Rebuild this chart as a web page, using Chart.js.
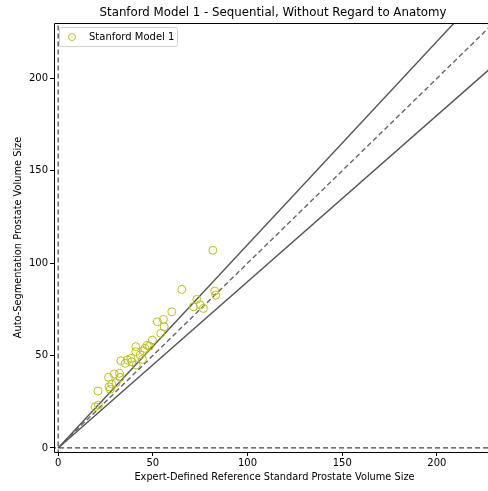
<!DOCTYPE html>
<html>
<head>
<meta charset="utf-8">
<script src="https://cdn.jsdelivr.net/npm/chart.js@4.4.1/dist/chart.umd.min.js"></script>
<style>
html,body{margin:0;padding:0;background:#fff;}
#wrap{width:488px;height:491px;position:relative;}
</style>
</head>
<body>
<div id="wrap"><canvas id="c" width="488" height="491"></canvas></div>
<script>
// ---- data ----
const titleText = "Stanford Model 1 - Sequential, Without Regard to Anatomy";
const xLabel = "Expert-Defined Reference Standard Prostate Volume Size";
const yLabel = "Auto-Segmentation Prostate Volume Size";
const seriesName = "Stanford Model 1";
const refX = [81.7,65.3,82.7,83.2,73.2,71.4,75.0,76.7,60.0,52.4,55.6,56.0,54.2,49.8,48.2,41.0,45.9,45.1,41.0,43.3,33.1,36.6,38.4,35.4,38.9,41.2,26.6,29.6,32.4,32.7,28.3,26.9,27.5,30.6,21.0,19.5,21.3,44.5,47.0];
const autoY = [107.0,85.8,84.9,82.7,80.4,76.4,77.5,75.5,73.7,68.3,69.6,65.6,62.0,58.4,55.1,54.8,53.9,52.6,52.1,50.3,47.2,47.6,48.5,45.8,46.6,44.9,38.2,40.0,40.4,38.2,34.6,33.1,31.7,35.3,30.8,22.3,23.2,48.0,55.5];
const xTicks = [0,50,100,150,200];
const yTicks = [0,50,100,150,200];
const xRange = [-2.2, 227];
const yRange = [-2.2, 230];
const slopes = [1.1, 1.0, 0.9];   // upper bound, identity, lower bound
const lineEndX = [0, 300];

const points = refX.map((x,i)=>({x:x, y:autoY[i]}));
const mkLine = s => lineEndX.map(x=>({x:x, y:s*x}));

const FONT = "'DejaVu Sans', sans-serif";

const framePlugin = {
  id:'frame',
  afterDraw(chart){
    const {ctx, chartArea:a} = chart;
    ctx.save();
    ctx.strokeStyle='#000'; ctx.lineWidth=1;
    ctx.beginPath();
    ctx.moveTo(a.left+0.5, a.bottom+0.5); ctx.lineTo(a.left+0.5, a.top+0.5); ctx.lineTo(chart.width, a.top+0.5);
    ctx.moveTo(a.left+0.5, a.bottom+0.5); ctx.lineTo(chart.width, a.bottom+0.5);
    ctx.stroke();
    // title
    ctx.fillStyle='#000';
    ctx.font = "11.8px "+FONT;
    ctx.textAlign='center'; ctx.textBaseline='middle';
    ctx.fillText(titleText, 273, 13);
    // axis labels
    ctx.font = "9.8px "+FONT;
    ctx.fillText(xLabel, 274.5, 477);
    ctx.save();
    ctx.translate(18, (a.top+a.bottom)/2);
    ctx.rotate(-Math.PI/2);
    ctx.fillText(yLabel, 0, 0);
    ctx.restore();
    // legend
    const lx=a.left+5, ly=a.top+4, lw=118, lh=19;
    ctx.fillStyle='rgba(255,255,255,0.8)';
    ctx.strokeStyle='#d0d0d0';
    ctx.beginPath();
    if (ctx.roundRect) ctx.roundRect(lx+0.5,ly+0.5,lw,lh,2); else ctx.rect(lx+0.5,ly+0.5,lw,lh);
    ctx.fill(); ctx.stroke();
    ctx.strokeStyle='#bcbd22'; ctx.lineWidth=1;
    ctx.beginPath(); ctx.arc(lx+13, ly+10, 3.5, 0, Math.PI*2); ctx.stroke();
    ctx.fillStyle='#000'; ctx.textAlign='left';
    ctx.font = "10px "+FONT;
    ctx.fillText(seriesName, lx+30, ly+10);
    ctx.restore();
  }
};

new Chart(document.getElementById('c'), {
  type:'scatter',
  data:{
    datasets:[
      {label:seriesName, data:points, showLine:false, pointStyle:'circle', pointRadius:4, pointBorderWidth:1,
       pointBorderColor:'#bcbd22', pointBackgroundColor:'rgba(0,0,0,0)', order:0},
      {label:'upper', data:mkLine(slopes[0]), showLine:true, pointRadius:0, borderColor:'#555', borderWidth:1.4, order:1},
      {label:'identity', data:mkLine(slopes[1]), showLine:true, pointRadius:0, borderColor:'#666', borderWidth:1.4, borderDash:[5,3], order:1},
      {label:'lower', data:mkLine(slopes[2]), showLine:true, pointRadius:0, borderColor:'#555', borderWidth:1.4, order:1},
      {label:'vzero', data:[{x:0,y:yRange[0]-10},{x:0,y:yRange[1]+10}], showLine:true, pointRadius:0, borderColor:'#444', borderWidth:1.2, borderDash:[5,3], order:1},
      {label:'hzero', data:[{x:xRange[0]-10,y:0},{x:xRange[1]+10,y:0}], showLine:true, pointRadius:0, borderColor:'#444', borderWidth:1.2, borderDash:[5,3], order:1}
    ]
  },
  options:{
    responsive:false, animation:false, devicePixelRatio:1,
    layout:{autoPadding:false, padding:{top:23,left:0,right:-5,bottom:0}},
    plugins:{legend:{display:false}, title:{display:false}, tooltip:{enabled:false}},
    scales:{
      x:{type:'linear', min:xRange[0], max:xRange[1],
         afterBuildTicks: s=>{ s.ticks = xTicks.map(v=>({value:v})); },
         afterFit: s=>{ s.height = 39; s.paddingLeft = 0; s.paddingRight = 0; },
         grid:{display:true, drawOnChartArea:false, drawTicks:true, tickLength:4, color:'#000'},
         border:{display:false},
         ticks:{color:'#000', font:{family:FONT, size:10}, padding:1, maxRotation:0, autoSkip:false}},
      y:{type:'linear', min:yRange[0], max:yRange[1],
         afterBuildTicks: s=>{ s.ticks = yTicks.map(v=>({value:v})); },
         afterFit: s=>{ s.width = 54; s.paddingTop = 0; s.paddingBottom = 0; },
         grid:{display:true, drawOnChartArea:false, drawTicks:true, tickLength:4, color:'#000'},
         border:{display:false},
         ticks:{color:'#000', font:{family:FONT, size:10}, padding:2, autoSkip:false}}
    }
  },
  plugins:[framePlugin]
});
</script>
</body>
</html>
